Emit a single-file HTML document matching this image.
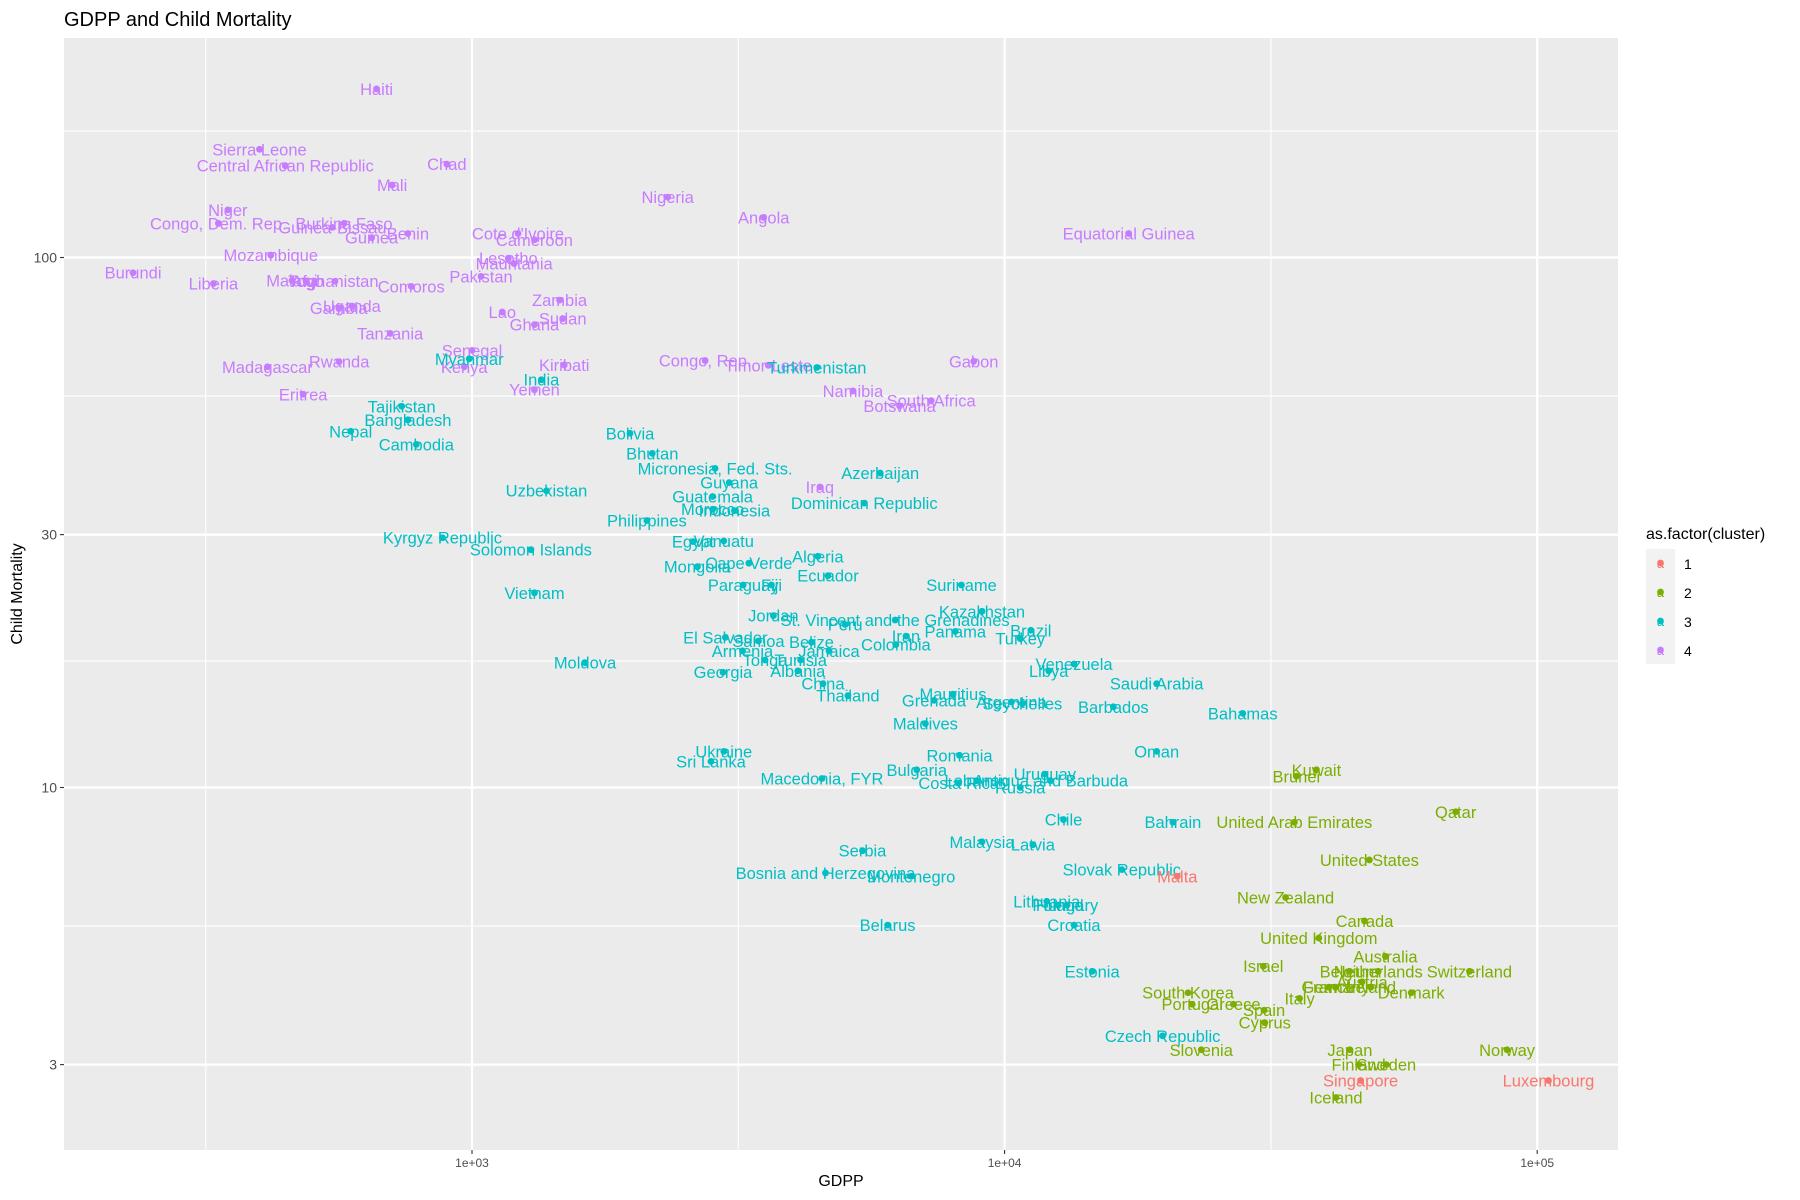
<!DOCTYPE html>
<html><head><meta charset="utf-8"><style>
html,body{margin:0;padding:0;background:#fff;}
svg{display:block;font-family:"Liberation Sans",Arial,sans-serif;}
</style></head><body>
<svg id="chart" width="1800" height="1200" viewBox="0 0 1800 1200">
<text x="64" y="26" font-size="20" fill="#000">GDPP and Child Mortality</text>
<rect x="64" y="38" width="1554" height="1112" fill="#ebebeb"/>
<g id="grid"></g>
<g id="marks"></g>
<g id="axes"></g>
<text x="841" y="1186" font-size="16" text-anchor="middle" fill="#000">GDPP</text>
<text transform="translate(22,594) rotate(-90)" font-size="16" text-anchor="middle" fill="#000">Child Mortality</text>
<g>
<text x="1646" y="539" font-size="16" fill="#000">as.factor(cluster)</text>
<rect x="1646" y="549" width="29" height="115" fill="#f2f2f2"/>
<g id="legend"></g>
</g>
</svg>
<script>
const countries=["Haiti","Sierra Leone","Chad","Central African Republic","Mali","Nigeria","Niger","Angola","Congo, Dem. Rep.","Burkina Faso","Guinea-Bissau","Benin","Equatorial Guinea","Cote d'Ivoire","Guinea","Cameroon","Mozambique","Lesotho","Burundi","Mauritania","Pakistan","Liberia","Malawi","Afghanistan","Togo","Comoros","Uganda","Gambia","Lao","Zambia","Sudan","Ghana","Tanzania","Senegal","Congo, Rep.","Timor-Leste","Gabon","Madagascar","Rwanda","Kenya","Kiribati","Yemen","Namibia","South Africa","Botswana","Eritrea","Iraq",
"Myanmar","India","Turkmenistan","Tajikistan","Bangladesh","Nepal","Cambodia","Bolivia","Bhutan","Micronesia, Fed. Sts.","Azerbaijan","Uzbekistan","Guyana","Guatemala","Dominican Republic","Indonesia","Morocco","Mongolia","Philippines","Egypt","Vanuatu","Kyrgyz Republic","Solomon Islands","Algeria","Cape Verde","Ecuador","Suriname","Paraguay","Fiji","Vietnam","Kazakhstan","Jordan","St. Vincent and the Grenadines","Peru","Panama","Brazil","Iran","Turkey","El Salvador","Samoa","Belize","Armenia","Colombia","Jamaica","Tonga","Tunisia","Moldova","Venezuela","Libya","Georgia","Albania","China","Saudi Arabia","Thailand","Mauritius","Grenada","Argentina","Seychelles","Barbados","Bahamas","Maldives","Ukraine","Sri Lanka","Romania","Oman","Bulgaria","Uruguay","Macedonia, FYR","Lebanon","Antigua and Barbuda","Costa Rica","Russia","Chile","Bahrain","Malaysia","Latvia","Serbia","Slovak Republic","Bosnia and Herzegovina","Montenegro","Lithuania","Poland","Hungary","Belarus","Croatia","Estonia","Czech Republic",
"Kuwait","Brunei","Qatar","United Arab Emirates","United States","New Zealand","Canada","United Kingdom","Australia","Israel","Switzerland","Belgium","Netherlands","Ireland","Austria","France","Germany","Denmark","South Korea","Italy","Portugal","Greece","Spain","Cyprus","Slovenia","Japan","Norway","Finland","Sweden","Iceland",
"Malta","Singapore","Luxembourg"];
const gdpp=[662,399,897,446,708,2330,348,3530,334,575,547,758,17100,1220,648,1310,419,1170,231,1200,1040,327,459,553,488,769,595,562,1140,1460,1480,1310,702,1000,2740,3600,8750,413,563,967,1490,1310,5190,7280,6350,482,4500,
988,1350,4440,738,758,592,786,1980,2180,2860,5840,1380,3040,2830,5450,3110,2830,2650,2130,2600,2970,880,1290,4460,3310,4660,8300,3230,3650,1310,9070,3680,6230,5020,8080,11200,6530,10700,2990,3450,4340,3220,6250,4680,3550,4140,1630,13500,12100,2960,4090,4560,19300,5080,8000,7370,10300,10800,16000,28000,7100,2970,2810,8230,19300,6840,11900,4540,8860,12200,8200,10700,12900,20700,9070,11300,5410,16600,4610,6680,12000,12600,13100,6030,13500,14600,19800,
38500,35300,70300,35000,48400,33700,47400,38900,51900,30600,74600,44400,50300,48700,46900,40600,41800,58000,22100,35800,22500,26900,30700,30800,23400,44500,87800,46200,52100,41900,
21100,46600,105000];
const childMort=[208,160,150,149,137,130,123,119,116,116,114,111,111,111,109,108,101,99.7,93.6,97.4,92.1,89.3,90.5,90.2,90.3,88.2,81,80.3,78.9,83.1,76.7,74.7,71.9,66.8,63.9,62.6,63.7,62.2,63.6,62.2,62.7,56.3,56,53.7,52.5,55.2,36.9,
64.4,58.8,62,52.4,49.4,47,44.4,46.6,42.7,40,39.2,36.3,37.6,35.4,34.4,33.3,33.5,26.1,31.9,29.1,29.2,29.6,28.1,27.3,26.5,25.1,24.1,24.1,24.1,23.3,21.5,21.1,20.7,20.3,19.7,19.8,19.3,19.1,19.2,18.9,18.8,18.1,18.6,18.1,17.4,17.4,17.2,17.1,16.6,16.5,16.6,15.7,15.7,14.9,15,14.6,14.5,14.4,14.2,13.8,13.2,11.7,11.2,11.5,11.7,10.8,10.6,10.4,10.3,10.3,10.2,10,8.7,8.6,7.9,7.8,7.6,7,6.9,6.8,6.1,6,6,5.5,5.5,4.5,3.4,
10.8,10.5,9,8.6,7.3,6.2,5.6,5.2,4.8,4.6,4.5,4.5,4.5,4.2,4.3,4.2,4.2,4.1,4.1,4,3.9,3.9,3.8,3.6,3.2,3.2,3.2,3,3,2.6,
6.8,2.8,2.8];
const cluster=[];
for(let i=0;i<47;i++)cluster.push(4);
for(let i=0;i<87;i++)cluster.push(3);
for(let i=0;i<30;i++)cluster.push(2);
for(let i=0;i<3;i++)cluster.push(1);
const xMajor=[1000,10000,100000];
const xTickLabels=["1e+03","1e+04","1e+05"];
const yMajor=[3,10,30,100];
const yTickLabels=["3","10","30","100"];
const legendLevels=["1","2","3","4"];

const colors={1:"#F8766D",2:"#7CAE00",3:"#00BFC4",4:"#C77CFF"};
const NS="http://www.w3.org/2000/svg";
const PL=64,PR=1618,PT=38,PB=1150;
function xs(v){return 472+(Math.log10(v)-3)*532.6;}
function ys(v){return 787.5-(Math.log10(v)-1)*530;}
function mk(tag,attrs,parent){const e=document.createElementNS(NS,tag);for(const k in attrs)e.setAttribute(k,attrs[k]);parent.appendChild(e);return e;}
const grid=document.getElementById('grid'),marks=document.getElementById('marks'),axes=document.getElementById('axes'),legend=document.getElementById('legend');
[2.5,3.5,4.5].forEach(l=>{const x=xs(Math.pow(10,l));const e=mk('line',{x1:x,x2:x,y1:PT,y2:PB,stroke:'#fff','stroke-width':1.1},grid);

});
for(let i=0;i<yMajor.length;i++){const m=i<yMajor.length-1?Math.sqrt(yMajor[i]*yMajor[i+1]):Math.sqrt(100*300);const y=ys(m);if(y<PT||y>PB)continue;const e=mk('line',{x1:PL,x2:PR,y1:y,y2:y,stroke:'#fff','stroke-width':1.1},grid);

}
xMajor.forEach((v,i)=>{const x=xs(v);const e=mk('line',{x1:x,x2:x,y1:PT,y2:PB,stroke:'#fff','stroke-width':2.2},grid);


const t=mk('line',{x1:x,x2:x,y1:PB,y2:PB+4,stroke:'#333','stroke-width':1.1},axes);


const l=mk('text',{x:x,y:PB+17,'font-size':12,'text-anchor':'middle',fill:'#4d4d4d'},axes);l.textContent=xTickLabels[i];

});
yMajor.forEach((v,i)=>{const y=ys(v);const e=mk('line',{x1:PL,x2:PR,y1:y,y2:y,stroke:'#fff','stroke-width':2.2},grid);


const t=mk('line',{x1:PL-4,x2:PL,y1:y,y2:y,stroke:'#333','stroke-width':1.1},axes);


const l=mk('text',{x:PL-7,y:y+5,'font-size':14,'text-anchor':'end',fill:'#4d4d4d'},axes);l.textContent=yTickLabels[i];

});
for(let i=0;i<countries.length;i++){const x=xs(gdpp[i]),y=ys(childMort[i]),c=colors[cluster[i]];
const p=mk('circle',{cx:x,cy:y,r:3.4,fill:c},marks);


const t=mk('text',{x:x,y:y+6,'font-size':16.5,'text-anchor':'middle',fill:c},marks);t.textContent=countries[i];

}
legendLevels.forEach((lv,i)=>{const cy=563+i*29;const c=colors[+lv];
const p=mk('circle',{cx:1660.5,cy:cy,r:3.4,fill:c},legend);


const a=mk('text',{x:1660.5,y:cy+5,'font-size':13,'text-anchor':'middle',fill:c},legend);a.textContent='a';


const t=mk('text',{x:1684,y:cy+6,'font-size':14,fill:'#000'},legend);t.textContent=lv;

});
</script>
</body></html>
